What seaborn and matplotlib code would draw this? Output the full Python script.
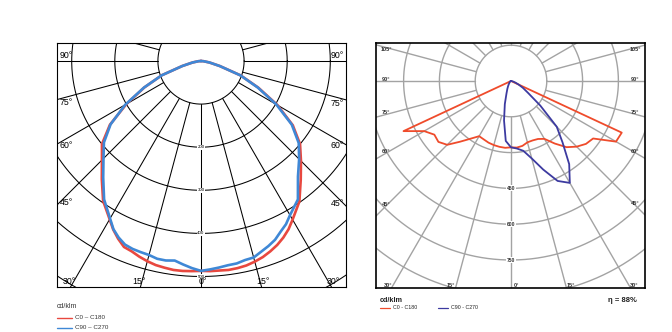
import numpy as np
import pandas as pd
import matplotlib
matplotlib.use("Agg")
import matplotlib.pyplot as plt
from matplotlib.lines import Line2D
import seaborn as sns

sns.set_theme(style="white")
plt.rcParams["font.family"] = ["Liberation Sans", "DejaVu Sans"]

# Polar light distribution, gamma angle measured from nadir (degrees)
GAMMA_A = [0, 2.5, 5, 7.5, 10, 12.5, 15, 17.5, 20, 22.5, 25, 27.5, 30,
           35, 40, 45, 50, 55, 60, 65, 70, 75, 80, 85, 90]
GAMMA_B = [0, 5, 10, 15, 20, 25, 30, 35, 40, 45, 50, 55, 60, 65, 70, 75, 80, 85, 90]

# Luminaire A, intensities in cd/klm
A_C0 = [487, 488, 488, 489, 488, 486, 482, 477, 470, 462, 452, 440, 425,
        398, 360, 328, 300, 260, 205, 147, 98, 45, 20, 6, 0]
A_C180 = [487, 488, 489, 489, 487, 485, 481, 476, 470, 467, 455, 441, 424,
          396, 358, 325, 300, 258, 200, 145, 97, 45, 20, 6, 0]
A_C90 = [487, 484, 481, 478, 477, 473, 472, 464, 457, 449, 437, 427, 413,
         392, 350, 322, 296, 257, 202, 145, 97, 45, 20, 6, 0]
A_C270 = [487, 481, 474, 467, 470, 470, 466, 465, 464, 461, 452, 440, 422,
          392, 353, 320, 294, 256, 203, 146, 97, 45, 20, 6, 0]
A_RINGS = [100, 200, 300, 400, 500, 600, 700, 800]
A_RING_LABELS = [200, 300, 400, 500]
A_ANGLE_LABELS = [0, 15, 30, 45, 60, 75, 90]

# Luminaire B, intensities in cd/klm
B_C0 = [278, 280, 276, 266, 265, 268, 280, 320, 362, 389, 410, 420, 508, 512, 0, 0, 0, 0, 0]
B_C180 = [278, 281, 280, 278, 275, 270, 267, 295, 332, 378, 397, 392, 420, 497, 0, 0, 0, 0, 0]
B_C90 = [278, 284, 297, 336, 395, 462, 493, 425, 336, 271, 160, 88, 58, 35, 20, 10, 5, 2, 0]
B_C270 = [278, 252, 168, 100, 55, 36, 24, 16, 11, 8, 6, 4, 3, 2, 1, 1, 0, 0, 0]
B_RINGS = [150, 300, 450, 600, 750, 900, 1050, 1200]
B_RING_LABELS = [450, 600, 750]
B_ANGLE_LABELS = [0, 15, 30, 45, 60, 75, 90, 105]
B_EFFICIENCY = 88

LEGEND = ["C0 \u2013 C180", "C90 \u2013 C270"]
LEGEND_B = ["C0 - C180", "C90 - C270"]

W, H = 672, 332
fig = plt.figure(figsize=(W / 100, H / 100), dpi=100)


def fx(px):
    return px / W


def fy(py):
    return 1 - py / H


def curve_frame(gamma, left_vals, right_vals):
    g = np.radians(gamma)
    lv = np.asarray(left_vals, float)
    rv = np.asarray(right_vals, float)
    xl, yl = -lv * np.sin(g), -lv * np.cos(g)
    xr, yr = rv * np.sin(g), -rv * np.cos(g)
    x = np.r_[xl[::-1], xr[1:]]
    y = np.r_[yl[::-1], yr[1:]]
    return pd.DataFrame({"x": x, "y": y})


def make_axes(box, centre, px_per_unit):
    x0, y0, x1, y1 = box
    cx, cy = centre
    ax = fig.add_axes([fx(x0), fy(y1), fx(x1 - x0), (y1 - y0) / H])
    ax.set_xlim((x0 - cx) / px_per_unit, (x1 - cx) / px_per_unit)
    ax.set_ylim(-(y1 - cy) / px_per_unit, (cy - y0) / px_per_unit)
    ax.set_xticks([])
    ax.set_yticks([])
    ax.set_facecolor("white")
    return ax


def draw_grid(ax, rings, color, lw):
    t = np.linspace(0, 2 * np.pi, 721)
    for r in rings:
        ax.plot(r * np.cos(t), r * np.sin(t), color=color, lw=lw, zorder=1)
    r0, r1 = rings[0], rings[-1] * 1.5
    for a in range(0, 360, 15):
        s, c = np.sin(np.radians(a)), np.cos(np.radians(a))
        ax.plot([r0 * s, r1 * s], [-r0 * c, -r1 * c], color=color, lw=lw, zorder=1)


def edge_point(ax, angle, side, inset):
    xlo, xhi = ax.get_xlim()
    ylo, _ = ax.get_ylim()
    X = (xhi if side > 0 else -xlo) - inset
    Y = -ylo - inset
    s, c = np.sin(np.radians(angle)), np.cos(np.radians(angle))
    ts = []
    if s > 1e-9:
        ts.append(X / s)
    if c > 1e-9:
        ts.append(Y / c)
    t = min(ts)
    return side * t * s, -t * c


# ---------------- left diagram ----------------
sA = 0.431
axA = make_axes((57, 42.5, 346, 287), (201, 61), sA)
draw_grid(axA, A_RINGS, "black", 0.75)
sns.lineplot(data=curve_frame(GAMMA_A, A_C180, A_C0), x="x", y="y", sort=False,
             estimator=None, color="#e8483f", lw=1.9, ax=axA, zorder=3)
sns.lineplot(data=curve_frame(GAMMA_A, A_C270, A_C90), x="x", y="y", sort=False,
             estimator=None, color="#3f88d6", lw=1.9, ax=axA, zorder=4)
for v in A_RING_LABELS:
    axA.text(0, -v, str(v), fontsize=3.2, ha="center", va="center", color="black", zorder=5,
             bbox=dict(facecolor="white", edgecolor="none", pad=0.4))
for a in A_ANGLE_LABELS:
    for side in ([-1, 1] if a else [1]):
        if a >= 45:
            _, y = edge_point(axA, a, side, 8 / sA)
            x = side * (axA.get_xlim()[1] if side > 0 else -axA.get_xlim()[0]) - side * 9 / sA
            va = "bottom" if a == 90 else "top"
            y = y + (1.5 / sA if a == 90 else -1 / sA)
        else:
            x, y = edge_point(axA, a, side, 0.6 / sA)
            x = x + side * 2 / sA
            va = "bottom"
        axA.text(x, y, f"{a}\u00b0", fontsize=6.3, ha="center", va=va, color="black", zorder=6)
for sp in axA.spines.values():
    sp.set_color("black")
    sp.set_linewidth(0.8)

# ---------------- right diagram ----------------
sB = 35.8 / 150
axB = make_axes((376, 42.5, 645, 288), (511, 81), sB)
draw_grid(axB, B_RINGS, "#a3a3a3", 1.0)
sns.lineplot(data=curve_frame(GAMMA_B, B_C180, B_C0), x="x", y="y", sort=False,
             estimator=None, color="#ef4b2b", lw=1.3, ax=axB, zorder=3)
sns.lineplot(data=curve_frame(GAMMA_B, B_C270, B_C90), x="x", y="y", sort=False,
             estimator=None, color="#3c3aa0", lw=1.3, ax=axB, zorder=4)
for v in B_RING_LABELS:
    axB.text(0, -v, str(v), fontsize=3.6, ha="center", va="center", color="#333333",
             fontweight="bold", zorder=5, bbox=dict(facecolor="white", edgecolor="none", pad=0.3))
for a in B_ANGLE_LABELS:
    for side in ([-1, 1] if a else [1]):
        if a >= 45:
            x, y = edge_point(axB, a, side, 10 / sB)
            y = y + (-2 / sB if a > 90 else 1.5 / sB)
        else:
            x, y = edge_point(axB, a, side, 2.5 / sB)
            x = x + side * 5 / sB
        axB.text(x, y, f"{a}\u00b0", fontsize=4, ha="center", va="center", color="#333333",
                 fontweight="bold", zorder=6)
for sp in axB.spines.values():
    sp.set_color("black")
    sp.set_linewidth(1.2)

# ---------------- legends ----------------
fig.text(fx(57), fy(307), "cd/klm", fontsize=5, color="#333333", va="center", ha="left")
for i, (lab, col) in enumerate(zip(LEGEND, ["#e8483f", "#3f88d6"])):
    yy = 317.5 + i * 10
    fig.add_artist(Line2D([fx(57), fx(72)], [fy(yy), fy(yy)], color=col, lw=1.0))
    fig.text(fx(75), fy(yy), lab, fontsize=4.5, color="#333333", va="center", ha="left")

fig.text(fx(380), fy(300), "cd/klm", fontsize=5.2, fontweight="bold", color="#222222",
         va="center", ha="left")
for i, (lab, col) in enumerate(zip(LEGEND_B, ["#ef4b2b", "#3c3aa0"])):
    x0 = 380 + i * 58
    fig.add_artist(Line2D([fx(x0), fx(x0 + 10)], [fy(307.8), fy(307.8)], color=col, lw=0.9))
    fig.text(fx(x0 + 13), fy(307.8), lab, fontsize=3.8, color="#222222", va="center", ha="left")
fig.text(fx(637), fy(300), f"\u03b7 = {B_EFFICIENCY}%", fontsize=5.5, fontweight="bold",
         color="#222222", va="center", ha="right")

fig.savefig("out.png", dpi=100, facecolor="white")
